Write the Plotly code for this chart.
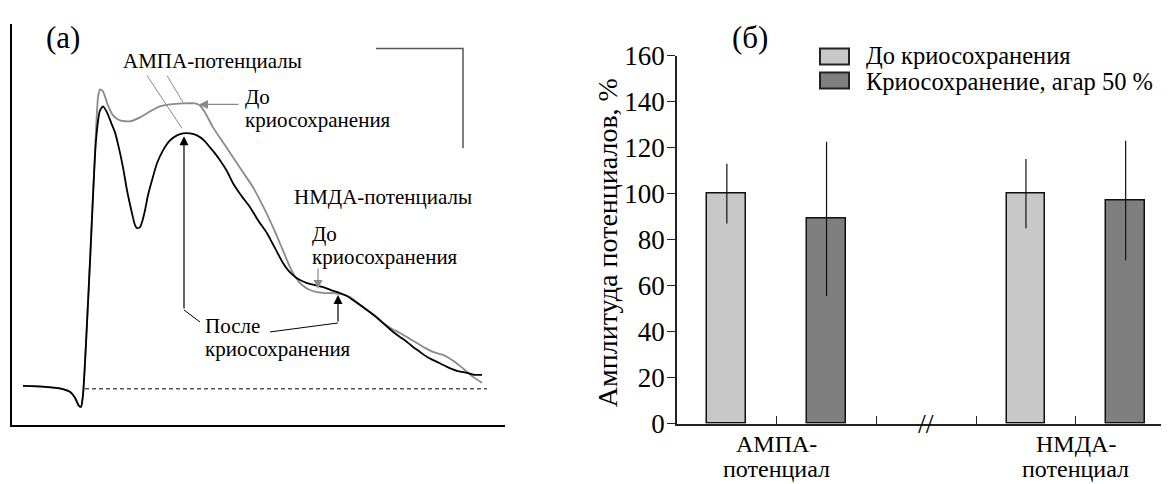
import plotly.graph_objects as go

W, H = 1169, 484
FONT = "Liberation Serif, 'Times New Roman', 'DejaVu Serif', serif"

# The page is photographed with a small offset / vertical squeeze; these helpers
# convert a target position (in picture pixels) into paper fractions.
OX, OY, SY = 8.0, 22.4, 0.94


def fx(px):
    return (px - OX) / W


def fy(py):
    return 1 - ((py - OY) / SY) / H


# ---------------- panel (a): schematic potentials (arbitrary units) ----------------
t_before = [-62, -40, -23, -15, -10, -6, -4, -2, 5, 11, 13, 15, 18, 23, 28, 35, 45, 55, 65, 75, 85,
            98, 110, 115, 120, 128, 138, 148, 158, 168, 178, 188, 197, 205, 211, 217, 225, 232, 240,
            248, 256, 265, 273, 282, 290, 298, 307, 315, 325, 332, 340, 348, 358, 367, 375, 382, 388, 397]
v_before = [3, 2, 0, -3, -9, -17, -18, -6, 129, 259, 292, 300, 298, 284, 274, 269, 268, 272, 278, 283, 285,
            286, 286, 284, 277, 262, 247, 232, 217, 202, 183, 162, 141, 122, 111, 104, 99, 97, 96,
            96, 95, 92, 86, 79, 73, 66, 60, 56, 50, 46, 41, 37, 34, 29, 23, 17, 12, 6]

t_after = [-62, -40, -23, -15, -10, -6, -4, -2, 5, 11, 15, 18, 22, 26, 30, 34, 38, 42, 47, 50, 52, 55,
           57, 60, 63, 67, 72, 78, 85, 92, 98, 105, 112, 119, 125, 130, 135, 142, 148, 156, 165, 173,
           182, 190, 198, 203, 208, 215, 222, 230, 238, 246, 255, 262, 268, 275, 282, 290, 298, 307,
           315, 322, 328, 335, 342, 352, 362, 372, 382, 390, 397]
v_after = [3, 2, 0, -3, -9, -17, -18, -6, 127, 249, 279, 283, 277, 267, 257, 241, 222, 199, 176, 164, 161, 162,
           167, 179, 194, 209, 226, 239, 249, 254, 256, 256, 254, 249, 242, 236, 229, 218, 206, 194, 182, 169,
           156, 141, 126, 119, 114, 109, 106, 104, 102, 99, 96, 93, 89, 84, 79, 73, 66, 58,
           52, 47, 42, 37, 32, 27, 22, 18, 16, 14, 14]

baseline_t = [0, 402]
baseline_v = [0, 0]
scalebar_t = [291, 378, 378]
scalebar_v = [341, 341, 241]

# ---------------- panel (б): bar chart ----------------
series_names = ["До криосохранения", "Криосохранение, агар 50 %"]
pos_before = [0.5, 3.5]
pos_after = [1.5, 4.5]
val_before = [100, 100]
err_before = [13, 15]
val_after = [89, 97]
err_after = [33.5, 26]
y_ticks = [0, 20, 40, 60, 80, 100, 120, 140, 160]
x_ticks = [1, 2, 3, 4]
cat_pos = [1, 4]
cat_line1 = ["АМПА-", "НМДА-"]
cat_line2 = ["потенциал", "потенциал"]
break_pos = 2.5

GRAY = "#8a8a8a"
LIGHT = "#c8c8c8"
DARK = "#7f7f7f"

fig = go.Figure()

# panel (a) traces
fig.add_trace(go.Scatter(x=baseline_t, y=baseline_v, mode="lines",
                         line=dict(color="black", width=1, dash="4px,3px"),
                         xaxis="x", yaxis="y", showlegend=False, hoverinfo="skip"))
fig.add_trace(go.Scatter(x=t_before, y=v_before, mode="lines",
                         line=dict(color=GRAY, width=1.8, shape="spline", smoothing=0.6),
                         xaxis="x", yaxis="y", showlegend=False, hoverinfo="skip"))
fig.add_trace(go.Scatter(x=t_after, y=v_after, mode="lines",
                         line=dict(color="black", width=1.8, shape="spline", smoothing=0.6),
                         xaxis="x", yaxis="y", showlegend=False, hoverinfo="skip"))
fig.add_trace(go.Scatter(x=scalebar_t, y=scalebar_v, mode="lines",
                         line=dict(color="#555555", width=1.5),
                         xaxis="x", yaxis="y", showlegend=False, hoverinfo="skip"))

# panel (б) bars
fig.add_trace(go.Bar(x=pos_before, y=val_before, width=0.39, name=series_names[0],
                     marker=dict(color=LIGHT, line=dict(color="#111111", width=1.5)),
                     error_y=dict(type="data", array=err_before, visible=True,
                                  color="#111111", thickness=1.2, width=0),
                     xaxis="x2", yaxis="y2", showlegend=False))
fig.add_trace(go.Bar(x=pos_after, y=val_after, width=0.39, name=series_names[1],
                     marker=dict(color=DARK, line=dict(color="#111111", width=1.5)),
                     error_y=dict(type="data", array=err_after, visible=True,
                                  color="#111111", thickness=1.2, width=0),
                     xaxis="x2", yaxis="y2", showlegend=False))

ann = []
shapes = []


def txt(text, x, y, size, xref="x", yref="y", xanchor="left", yanchor="middle", angle=0):
    ann.append(dict(text=text, x=x, y=y, xref=xref, yref=yref, xanchor=xanchor, yanchor=yanchor,
                    showarrow=False, textangle=angle,
                    font=dict(family=FONT, size=size, color="black")))


def arrow(x0, y0, x1, y1, color):
    ann.append(dict(text="", x=x1, y=y1, ax=x0, ay=y0, xref="x", yref="y", axref="x", ayref="y",
                    showarrow=True, arrowhead=2, arrowsize=1.5, arrowwidth=1.2, arrowcolor=color,
                    standoff=0, startstandoff=0))


def seg(x0, y0, x1, y1, color, width=1):
    shapes.append(dict(type="line", xref="x", yref="y", x0=x0, y0=y0, x1=x1, y1=y1,
                       line=dict(color=color, width=width)))


# panel (a) labels (data units of panel a)
txt("(a)", fx(63), fy(37), 31, xref="paper", yref="paper", xanchor="center")
txt("АМПА-потенциалы", 127, 329, 21, xanchor="center")
txt("До", 158, 292, 21)
txt("криосохранения", 158, 269, 21)
txt("НМДА-потенциалы", 207, 192, 21)
txt("До", 225, 155.5, 21)
txt("криосохранения", 225, 132.5, 21)
txt("После", 118, 62.5, 21)
txt("криосохранения", 118, 39.5, 21)

seg(62, 314, 97, 261, GRAY)
seg(82, 314, 98, 287, GRAY)
arrow(155, 285, 114, 285, GRAY)
arrow(233, 122, 233, 100, GRAY)
seg(115, 67, 99, 79, "black")
arrow(99, 79, 99, 253, "black")
seg(185, 57, 253, 66, "black")
arrow(253, 66, 253, 94, "black")

# panel (б) labels
txt("(б)", fx(750), fy(37), 31, xref="paper", yref="paper", xanchor="center")
txt("Амплитуда потенциалов, %", fx(607), fy(243), 28, xref="paper", yref="paper",
    xanchor="center", angle=-90)
for p, l1, l2 in zip(cat_pos, cat_line1, cat_line2):
    txt(l1, p, fy(444.5), 24, xref="x2", yref="paper", xanchor="center")
    txt(l2, p, fy(469.5), 24, xref="x2", yref="paper", xanchor="center")
txt("//", break_pos, fy(424), 28, xref="x2", yref="paper", xanchor="center")

# manual legend
for i, (name, col) in enumerate(zip(series_names, [LIGHT, DARK])):
    top = 48 + 24 * i
    shapes.append(dict(type="rect", xref="paper", yref="paper", x0=fx(820), x1=fx(849),
                       y0=fy(top + 16), y1=fy(top), fillcolor=col,
                       line=dict(color="#222222", width=2)))
    txt(name, fx(864), fy(54.5 + 27 * i), 24.5, xref="paper", yref="paper")

fig.update_layout(
    width=W, height=H,
    margin=dict(l=0, r=0, t=0, b=0),
    paper_bgcolor="white", plot_bgcolor="white",
    hovermode=False,
    bargap=0,
    font=dict(family=FONT, color="black"),
    xaxis=dict(domain=[fx(12), fx(505)], range=[-73, 420], showline=True, linecolor="black",
               linewidth=1.5, showgrid=False, zeroline=False, showticklabels=False, ticks="",
               anchor="y"),
    yaxis=dict(domain=[fy(425), fy(23)], range=[-36, 366], showline=True, linecolor="black",
               linewidth=1.5, showgrid=False, zeroline=False, showticklabels=False, ticks="",
               anchor="x"),
    xaxis2=dict(domain=[fx(677), 1.0], range=[0, (W + OX - 677) / 99.7], showline=True,
                linecolor="#222222", linewidth=1.5, showgrid=False, zeroline=False,
                tickvals=x_ticks, showticklabels=False, ticks="inside", ticklen=8, tickwidth=1,
                tickcolor="#222222", anchor="y2"),
    yaxis2=dict(domain=[fy(424), fy(55)], range=[0, 160], showline=True, linecolor="#222222",
                linewidth=1.5, showgrid=False, zeroline=False, tickvals=y_ticks,
                ticks="outside", ticklen=8, tickwidth=1, tickcolor="#222222",
                ticklabelstandoff=-3,
                tickfont=dict(family=FONT, size=27, color="black"), anchor="x2"),
    annotations=ann,
    shapes=shapes,
)

fig.write_html("out.html")
